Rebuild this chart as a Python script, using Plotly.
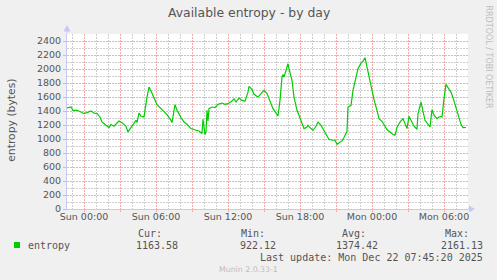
import pandas as pd
import plotly.graph_objects as go

# minutes offset from Sun 2025-12-21 00:00
minutes = [-85, -65, -55, -35, -15, 0, 15, 35, 50, 65, 80, 90, 110, 125, 135, 150, 165, 175, 190, 210,
           220, 240, 255, 260, 265, 275, 285, 300, 315, 325, 335, 350, 365, 385, 400, 415, 435, 440, 455, 465,
           485, 500, 515, 535, 560, 575, 590, 595, 605, 610, 615, 620, 625, 640, 655, 670, 690, 705, 720, 740,
           750, 760, 775, 790, 805, 820, 825, 840, 850, 870, 885, 900, 915, 930, 945, 970, 980, 990, 995, 1000,
           1015, 1020, 1025, 1040, 1050, 1065, 1075, 1090, 1100, 1115, 1120, 1135, 1145, 1160, 1170, 1185, 1195, 1215, 1225, 1245,
           1255, 1265, 1290, 1300, 1315, 1320, 1335, 1345, 1360, 1370, 1385, 1395, 1405, 1415, 1425, 1440, 1450, 1465, 1475, 1490,
           1500, 1515, 1530, 1545, 1555, 1565, 1580, 1595, 1605, 1615, 1625, 1640, 1650, 1665, 1670, 1685, 1695, 1705, 1720, 1730,
           1740, 1750, 1765, 1775, 1785, 1790, 1800, 1810, 1820, 1835, 1845, 1860, 1870, 1885, 1895, 1910]
entropy = [1443, 1457, 1410, 1410, 1386, 1362, 1377, 1400, 1372, 1362, 1315, 1243, 1196, 1163, 1206, 1182, 1229, 1257, 1234, 1182,
           1101, 1182, 1243, 1267, 1234, 1372, 1324, 1315, 1599, 1741, 1685, 1576, 1491, 1434, 1395, 1348, 1267, 1234, 1491, 1410,
           1306, 1243, 1210, 1149, 1125, 1115, 1078, 1282, 1063, 1101, 1410, 1257, 1434, 1457, 1448, 1495, 1514, 1495, 1505, 1542,
           1576, 1528, 1585, 1552, 1538, 1670, 1752, 1709, 1638, 1599, 1648, 1695, 1648, 1552, 1434, 1329, 1552, 1884, 1922, 1884,
           2050, 2075, 2004, 1837, 1599, 1410, 1339, 1220, 1149, 1172, 1196, 1149, 1125, 1182, 1243, 1196, 1149, 1054, 992, 982,
           982, 925, 973, 1021, 1111, 1457, 1481, 1695, 1884, 2004, 2084, 2112, 2161, 2027, 1884, 1695, 1562, 1410, 1291, 1253,
           1210, 1135, 1101, 1063, 1054, 1163, 1243, 1291, 1220, 1149, 1324, 1243, 1182, 1139, 1362, 1528, 1372, 1267, 1210, 1172,
           1420, 1339, 1291, 1315, 1324, 1315, 1576, 1780, 1733, 1670, 1590, 1448, 1324, 1210, 1163, 1164]

x_tick_hours = [0, 3, 6, 9, 12, 15, 18, 21, 24, 27, 30]
x_tick_labels = ["Sun 00:00", "", "Sun 06:00", "", "Sun 12:00", "", "Sun 18:00", "", "Mon 00:00", "", "Mon 06:00"]
y_ticks = [0, 200, 400, 600, 800, 1000, 1200, 1400, 1600, 1800, 2000, 2200, 2400]

stat_names = ["Cur:", "Min:", "Avg:", "Max:"]
stat_values = ["1163.58", "922.12", "1374.42", "2161.13"]
series_name = "entropy"
title = "Available entropy - by day"
last_update = "Last update: Mon Dec 22 07:45:20 2025"

base = pd.Timestamp("2025-12-21 00:00")
xs = [base + pd.Timedelta(minutes=m) for m in minutes]
tickvals = [base + pd.Timedelta(hours=h) for h in x_tick_hours]
x_range = [base + pd.Timedelta(minutes=-85), base + pd.Timedelta(minutes=1920)]

W, H = 497, 280
L, R, T, B = 67, 29, 34, 71
PW, PH = W - L - R, H - T - B

def px(xp):
    return (xp - L) / PW

def py(yp):
    return (H - B - yp) / PH

RED = "rgb(250,168,168)"
GRAY = "#cfcfcf"
AXIS = "#c8c8f4"
TXT = "#555555"
DASH = "2px,1px"

fig = go.Figure()
fig.add_trace(go.Scatter(x=xs, y=entropy, mode="lines",
                         line=dict(color="#00cc00", width=1.2), showlegend=False))

fig.update_layout(
    width=W, height=H, margin=dict(l=L, r=R, t=T, b=B),
    paper_bgcolor="#f0f0f0", plot_bgcolor="white",
    font=dict(family="DejaVu Sans", color=TXT, size=9.5),
    showlegend=False,
)
fig.update_xaxes(
    range=x_range, tickmode="array", tickvals=tickvals, ticktext=x_tick_labels,
    showgrid=True, gridcolor=RED, griddash=DASH, gridwidth=1,
    minor=dict(dtick=3600000, tick0=base, showgrid=True, gridcolor=GRAY, griddash=DASH, gridwidth=1),
    showline=True, linecolor=AXIS, linewidth=1,
    ticks="outside", ticklen=2, tickcolor=RED, ticklabelstandoff=-3,
    tickfont=dict(family="DejaVu Sans", size=9.5, color=TXT),
    zeroline=False, fixedrange=True,
)
fig.update_yaxes(
    range=[0, 2500], tickmode="array", tickvals=y_ticks,
    showgrid=True, gridcolor=RED, griddash=DASH, gridwidth=1,
    minor=dict(dtick=100, tick0=0, showgrid=True, gridcolor=GRAY, griddash=DASH, gridwidth=1),
    showline=True, linecolor=AXIS, linewidth=1,
    ticks="outside", ticklen=3, tickcolor=RED,
    tickfont=dict(family="DejaVu Sans", size=9.5, color=TXT),
    zeroline=False, fixedrange=True,
)

shapes = []
# axis extensions and arrows
shapes.append(dict(type="line", xref="paper", yref="paper", x0=0, x1=0, y0=1, y1=py(30),
                   line=dict(color=AXIS, width=1)))
shapes.append(dict(type="path", xref="paper", yref="paper",
                   path=f"M {px(63.5)} {py(31.5)} L {px(70.5)} {py(31.5)} L {px(67)} {py(25)} Z",
                   fillcolor=AXIS, line=dict(color=AXIS, width=0)))
shapes.append(dict(type="line", xref="paper", yref="paper", x0=1, x1=px(470), y0=0, y1=0,
                   line=dict(color=AXIS, width=1)))
shapes.append(dict(type="path", xref="paper", yref="paper",
                   path=f"M {px(469)} {py(205.5)} L {px(469)} {py(212.5)} L {px(475)} {py(209)} Z",
                   fillcolor=AXIS, line=dict(color=AXIS, width=0)))
# legend square
shapes.append(dict(type="rect", xref="paper", yref="paper", x0=px(14), x1=px(20), y0=py(248), y1=py(242),
                   fillcolor="#00cc00", line=dict(color="#00cc00", width=0)))
fig.update_layout(shapes=shapes)

MONO = "DejaVu Sans Mono"
ann = []
ann.append(dict(text=title, x=px(248.5), y=py(12), xref="paper", yref="paper", showarrow=False,
                xanchor="center", yanchor="middle", font=dict(family="DejaVu Sans", size=12.4, color=TXT)))
ann.append(dict(text="entropy (bytes)", x=px(10.8), y=py(120), xref="paper", yref="paper", showarrow=False,
                textangle=-90, xanchor="center", yanchor="middle",
                font=dict(family="DejaVu Sans", size=10.8, color=TXT)))
ann.append(dict(text="RRDTOOL / TOBI OETIKER", x=px(488.5), y=py(57), xref="paper", yref="paper", showarrow=False,
                textangle=90, xanchor="center", yanchor="middle",
                font=dict(family="DejaVu Sans", size=8, color="#bdbdbd")))
head_right = [162.5, 265.5, 367, 469.5]
val_right = [178.5, 276.5, 379, 483.5]
for name, hr, val, vr in zip(stat_names, head_right, stat_values, val_right):
    ann.append(dict(text=name, x=px(hr), y=py(233.3), xref="paper", yref="paper", showarrow=False,
                    xanchor="right", yanchor="middle", font=dict(family=MONO, size=10, color=TXT)))
    ann.append(dict(text=val, x=px(vr), y=py(245), xref="paper", yref="paper", showarrow=False,
                    xanchor="right", yanchor="middle", font=dict(family=MONO, size=10, color=TXT)))
ann.append(dict(text=series_name, x=px(26.5), y=py(245), xref="paper", yref="paper", showarrow=False,
                xanchor="left", yanchor="middle", font=dict(family=MONO, size=10, color=TXT)))
ann.append(dict(text=last_update, x=px(483.5), y=py(257.3), xref="paper", yref="paper", showarrow=False,
                xanchor="right", yanchor="middle", font=dict(family=MONO, size=10, color=TXT)))
ann.append(dict(text="Munin 2.0.33-1", x=px(248.5), y=py(269.5), xref="paper", yref="paper", showarrow=False,
                xanchor="center", yanchor="middle", font=dict(family="DejaVu Sans", size=7.8, color="#bdbdbd")))
for a in ann:
    a["borderpad"] = 0
fig.update_layout(annotations=ann)

fig.write_html("out.html", config={"displayModeBar": False})
